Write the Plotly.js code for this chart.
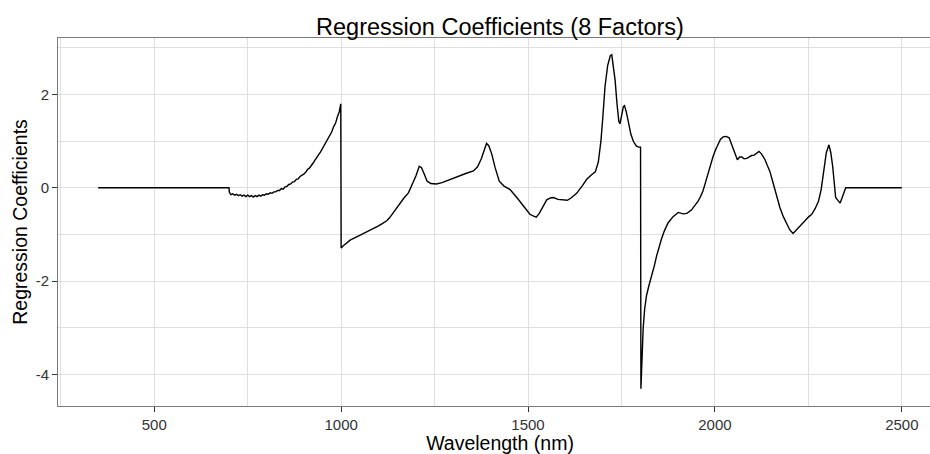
<!DOCTYPE html>
<html>
<head>
<meta charset="utf-8">
<script src="https://cdn.plot.ly/plotly-3.0.1.min.js"></script>
<style>
html, body { margin: 0; padding: 0; overflow: hidden; background: #fff; width: 930px; height: 454px; }
#wrap { width: 930px; height: 454px; overflow: hidden; position: relative; }
#chart { width: 942px; height: 454px; position: absolute; left: 0; top: 0; }
</style>
</head>
<body>
<div id="wrap"><div id="chart"></div></div>
<script>
const wavelength = [
  350, 700, 701, 705, 710, 715, 720, 725, 730, 735, 740, 745, 750, 755, 760, 765, 770, 775, 780, 785,
  790, 795, 800, 805, 810, 815, 820, 825, 830, 835, 840, 845, 850, 855, 860, 865, 870, 875, 880, 885,
  890, 895, 900, 905, 910, 915, 920, 925, 930, 935, 940, 945, 950, 955, 960, 965, 970, 975, 980, 985,
  990, 995, 999, 1000, 1005, 1015, 1025, 1035, 1050, 1065, 1075, 1085, 1100, 1110, 1122, 1130, 1140, 1150,
  1158, 1168, 1180, 1190, 1200, 1209, 1215, 1222, 1230, 1240, 1255, 1270, 1285, 1300, 1318, 1335, 1354,
  1365, 1375, 1383, 1389, 1395, 1403, 1412, 1423, 1435, 1452, 1470, 1488, 1505, 1515, 1522, 1530, 1540,
  1550, 1560, 1568, 1580, 1595, 1605, 1615, 1630, 1645, 1657, 1670, 1680, 1688, 1695, 1700, 1706, 1713,
  1720, 1724, 1728, 1733, 1738, 1743, 1746, 1750, 1755, 1758, 1763, 1769, 1775, 1782, 1790, 1796, 1801,
  1802, 1805, 1808, 1812, 1817, 1824, 1831, 1838, 1844, 1850, 1857, 1865, 1875, 1888, 1902, 1915, 1925,
  1937, 1945, 1955, 1962, 1968, 1975, 1982, 1988, 1995, 2002, 2009, 2015, 2022, 2030, 2038, 2044, 2049,
  2055, 2060, 2066, 2072, 2078, 2085, 2092, 2098, 2105, 2112, 2118, 2125, 2134, 2140, 2147, 2154, 2160,
  2167, 2174, 2183, 2192, 2200, 2209, 2215, 2223, 2232, 2241, 2250, 2259, 2268, 2277, 2284, 2290, 2298,
  2305, 2310, 2315, 2319, 2323, 2328, 2335, 2340, 2343, 2347, 2350, 2500
];
const coefficient = [
  0, 0, -0.10, -0.15, -0.13, -0.16, -0.14, -0.17, -0.15, -0.18, -0.16, -0.19, -0.16, -0.19, -0.17, -0.20, -0.17, -0.19, -0.16, -0.18,
  -0.15, -0.16, -0.13, -0.14, -0.11, -0.12, -0.09, -0.09, -0.06, -0.06, -0.02, -0.03, 0.02, 0.03, 0.07, 0.08, 0.12, 0.13, 0.18, 0.19,
  0.24, 0.26, 0.29, 0.33, 0.39, 0.42, 0.49, 0.53, 0.59, 0.64, 0.71, 0.77, 0.84, 0.89, 0.97, 1.03, 1.13, 1.20, 1.31, 1.38,
  1.52, 1.63, 1.80, -1.29, -1.25, -1.18, -1.12, -1.08, -1.02, -0.97, -0.93, -0.88, -0.82, -0.77, -0.71, -0.64, -0.53, -0.42,
  -0.32, -0.22, -0.11, 0.06, 0.25, 0.46, 0.43, 0.30, 0.14, 0.09, 0.08, 0.11, 0.16, 0.21, 0.27, 0.31, 0.36,
  0.45, 0.62, 0.82, 0.95, 0.90, 0.72, 0.43, 0.14, 0.04, -0.04, -0.21, -0.39, -0.57, -0.61, -0.63, -0.55, -0.40,
  -0.26, -0.22, -0.21, -0.25, -0.26, -0.27, -0.22, -0.12, 0.04, 0.18, 0.28, 0.34, 0.55, 1.00, 1.50, 2.17, 2.62,
  2.83, 2.85, 2.65, 2.30, 1.80, 1.42, 1.37, 1.55, 1.74, 1.76, 1.62, 1.39, 1.15, 0.99, 0.89, 0.87, 0.87,
  -4.31, -3.60, -3.02, -2.60, -2.31, -2.08, -1.89, -1.67, -1.46, -1.28, -1.10, -0.92, -0.75, -0.62, -0.53, -0.56, -0.55,
  -0.48, -0.40, -0.29, -0.18, -0.07, 0.12, 0.32, 0.50, 0.67, 0.82, 0.96, 1.04, 1.09, 1.10, 1.07, 0.95, 0.82,
  0.70, 0.60, 0.66, 0.66, 0.62, 0.63, 0.66, 0.69, 0.70, 0.74, 0.78, 0.72, 0.60, 0.48, 0.35, 0.15, -0.04,
  -0.25, -0.43, -0.62, -0.78, -0.90, -0.98, -0.93, -0.88, -0.80, -0.71, -0.63, -0.57, -0.45, -0.29, -0.05, 0.32, 0.75,
  0.92, 0.75, 0.46, 0.10, -0.21, -0.26, -0.33, -0.22, -0.14, -0.08, 0, 0
];
const xTicks = [500, 1000, 1500, 2000, 2500];
const yTicks = [-4, -2, 0, 2];

const gridCol = '#dfdfdf';
const trace = {
  x: wavelength, y: coefficient, type: 'scatter', mode: 'lines',
  line: { color: '#000000', width: 1.4 }, hoverinfo: 'skip'
};
const layout = {
  width: 942, height: 454,
  margin: { l: 58, r: 0, t: 38, b: 48 },
  paper_bgcolor: '#ffffff', plot_bgcolor: '#ffffff',
  font: { family: 'Liberation Sans, Arial, sans-serif', color: '#333333' },
  showlegend: false,
  title: {
    text: 'Regression Coefficients (8 Factors)',
    font: { size: 23.5, color: '#000000' },
    xref: 'container', x: 500 / 942, xanchor: 'center',
    yref: 'container', y: 1 - 26.5 / 454, yanchor: 'middle'
  },
  xaxis: {
    range: [242.5, 2607.5], tickvals: xTicks, ticktext: xTicks.map(String),
    showgrid: true, gridcolor: gridCol, gridwidth: 1,
    minor: { tickvals: [250, 750, 1250, 1750, 2250], showgrid: true, gridcolor: gridCol, gridwidth: 1, ticks: '' },
    zeroline: false, showline: true, linecolor: '#7a7a7a', linewidth: 1, mirror: true,
    ticks: 'outside', ticklen: 5, tickcolor: '#333333', tickwidth: 1,
    tickfont: { size: 15, color: '#333333' },
    title: { text: 'Wavelength (nm)', font: { size: 19.5, color: '#000000' }, standoff: 2 },
    automargin: false, fixedrange: true
  },
  yaxis: {
    range: [-4.68, 3.21], tickvals: yTicks, ticktext: yTicks.map(String),
    showgrid: true, gridcolor: gridCol, gridwidth: 1,
    minor: { tickvals: [-3, -1, 1, 3], showgrid: true, gridcolor: gridCol, gridwidth: 1, ticks: '' },
    zeroline: false, showline: true, linecolor: '#7a7a7a', linewidth: 1, mirror: false,
    ticks: 'outside', ticklen: 5, tickcolor: '#333333', tickwidth: 1,
    tickfont: { size: 15, color: '#333333' },
    title: { text: 'Regression Coefficients', font: { size: 19.5, color: '#000000' }, standoff: 2 },
    automargin: false, fixedrange: true
  }
};
Plotly.newPlot('chart', [trace], layout, { staticPlot: true, displayModeBar: false });
</script>
</body>
</html>
